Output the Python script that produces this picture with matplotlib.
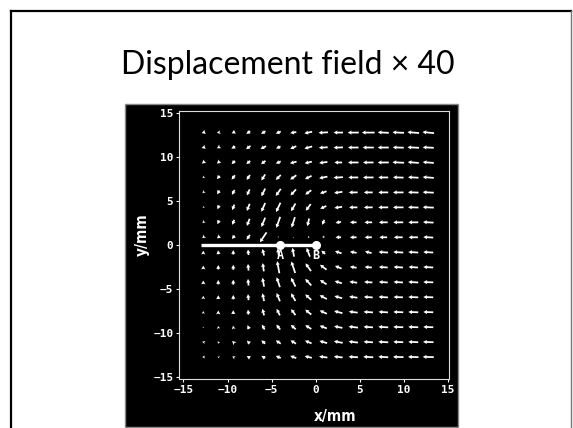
import numpy as np
import matplotlib
matplotlib.use("Agg")
import matplotlib.pyplot as plt
from matplotlib.patches import Rectangle
from matplotlib.lines import Line2D

# grid of measurement points (mm)
grid_x = [-12.75, -11.05, -9.35, -7.65, -5.95, -4.25, -2.55, -0.85,
          0.85, 2.55, 4.25, 5.95, 7.65, 9.35, 11.05, 12.75]
grid_y = grid_x[::-1]  # rows listed top to bottom

# displacement x 40 (mm), one row per grid_y value
U = [
    [-0.3, -0.25, -0.3, -0.35, -0.4, -0.45, -0.55, -0.7, -0.85, -0.85, -1.0, -1.15, -1.0, -1.05, -1.05, -1.05],
    [-0.3, -0.25, -0.35, -0.4, -0.5, -0.4, -0.55, -0.7, -0.8, -0.85, -0.95, -1.0, -1.0, -1.0, -1.05, -1.0],
    [-0.25, -0.25, -0.3, -0.35, -0.4, -0.45, -0.6, -0.65, -0.75, -0.7, -0.95, -0.95, -1.0, -1.05, -1.0, -1.0],
    [-0.15, -0.25, -0.3, -0.3, -0.35, -0.45, -0.55, -0.6, -0.75, -0.85, -0.9, -0.95, -0.9, -0.95, -0.95, -1.0],
    [-0.15, -0.2, -0.25, -0.25, -0.35, -0.45, -0.5, -0.55, -0.6, -0.75, -0.8, -0.8, -0.9, -0.95, -0.95, -1.0],
    [-0.1, -0.15, -0.2, -0.25, -0.35, -0.4, -0.4, -0.45, -0.55, -0.7, -0.75, -0.8, -0.9, -0.95, -0.95, -1.0],
    [-0.15, -0.15, -0.2, -0.25, -0.35, -0.35, -0.3, -0.15, -0.2, -0.5, -0.6, -0.7, -0.8, -0.9, -0.9, -0.95],
    [-0.2, -0.25, -0.25, -0.3, -0.6, 0.0, -0.05, -0.1, -0.1, -0.5, -0.6, -0.65, -0.7, -0.8, -0.85, -0.9],
    [0.0, -0.05, 0.0, -0.05, -0.15, -0.1, -0.15, -0.3, -0.35, -0.6, -0.6, -0.6, -0.85, -0.9, -0.9, -0.9],
    [0.0, 0.0, 0.0, -0.05, -0.1, -0.2, -0.35, -0.5, -0.6, -0.6, -0.6, -0.65, -0.8, -0.85, -0.85, -0.9],
    [0.0, 0.0, 0.0, -0.05, -0.15, -0.3, -0.4, -0.55, -0.6, -0.65, -0.7, -0.75, -0.8, -0.85, -0.9, -0.9],
    [0.0, 0.0, 0.0, -0.05, -0.15, -0.3, -0.4, -0.55, -0.65, -0.7, -0.75, -0.8, -0.85, -0.85, -0.9, -0.9],
    [0.0, 0.0, 0.0, -0.05, -0.15, -0.3, -0.4, -0.55, -0.65, -0.75, -0.8, -0.85, -0.85, -0.9, -0.9, -0.9],
    [0.0, -0.05, -0.05, -0.15, -0.25, -0.35, -0.45, -0.55, -0.65, -0.75, -0.85, -0.85, -0.9, -0.9, -0.9, -0.9],
    [-0.2, -0.1, -0.2, -0.25, -0.35, -0.45, -0.5, -0.6, -0.7, -0.8, -0.85, -0.85, -0.9, -0.9, -0.9, -0.95],
    [-0.2, -0.15, -0.2, -0.3, -0.35, -0.45, -0.55, -0.65, -0.75, -0.8, -0.85, -0.9, -0.9, -0.95, -0.95, -1.0],
]
V = [
    [-0.1, -0.05, -0.15, -0.25, -0.25, -0.2, -0.1, -0.15, -0.05, 0.0, 0.0, 0.0, 0.05, 0.05, 0.08, 0.1],
    [-0.1, -0.15, -0.2, -0.3, -0.25, -0.2, -0.25, -0.2, -0.05, -0.03, 0.0, 0.0, 0.0, 0.03, 0.05, 0.05],
    [-0.2, -0.2, -0.3, -0.3, -0.3, -0.2, -0.15, -0.15, -0.1, 0.0, 0.0, 0.0, 0.0, 0.05, 0.08, 0.08],
    [-0.1, -0.3, -0.4, -0.45, -0.55, -0.45, -0.4, -0.3, -0.15, -0.05, 0.0, 0.0, 0.0, 0.03, 0.05, 0.08],
    [-0.15, -0.35, -0.45, -0.55, -0.7, -0.65, -0.55, -0.4, -0.2, -0.1, 0.0, 0.0, 0.0, 0.0, 0.03, 0.05],
    [-0.1, -0.35, -0.5, -0.65, -0.8, -0.85, -0.7, -0.6, -0.25, -0.1, 0.0, 0.0, 0.0, 0.0, 0.03, 0.05],
    [-0.15, -0.35, -0.45, -0.65, -0.85, -1.0, -0.95, -0.7, -0.45, -0.1, 0.0, 0.0, 0.0, 0.0, 0.0, 0.05],
    [-0.15, -0.2, -0.3, -0.45, -0.9, -0.1, -0.05, -0.1, -0.15, 0.0, 0.0, 0.0, 0.0, 0.0, 0.0, 0.05],
    [0.3, 0.35, 0.4, 0.5, 0.6, 0.7, 0.8, 0.8, 0.3, 0.2, 0.1, 0.15, 0.05, 0.05, 0.05, 0.05],
    [0.3, 0.4, 0.45, 0.6, 0.75, 1.1, 1.05, 0.7, 0.45, 0.25, 0.1, 0.05, 0.05, 0.05, 0.05, 0.05],
    [0.3, 0.4, 0.45, 0.6, 0.8, 0.9, 0.8, 0.6, 0.4, 0.2, 0.1, 0.05, 0.05, 0.05, 0.05, 0.03],
    [0.25, 0.35, 0.4, 0.55, 0.7, 0.75, 0.7, 0.5, 0.35, 0.2, 0.1, 0.05, 0.05, 0.03, 0.03, 0.03],
    [0.2, 0.3, 0.35, 0.45, 0.6, 0.6, 0.55, 0.45, 0.3, 0.2, 0.1, 0.05, 0.05, 0.03, 0.03, 0.03],
    [0.1, 0.2, 0.25, 0.35, 0.45, 0.45, 0.4, 0.35, 0.25, 0.15, 0.1, 0.05, 0.05, 0.03, 0.03, 0.03],
    [0.05, 0.15, 0.2, 0.25, 0.3, 0.3, 0.3, 0.25, 0.2, 0.15, 0.1, 0.05, 0.05, 0.03, 0.03, 0.03],
    [0.0, 0.05, 0.1, 0.15, 0.2, 0.2, 0.2, 0.15, 0.1, 0.08, 0.05, 0.05, 0.05, 0.03, 0.03, 0.03],
]

# crack line and points A, B
crack_x = [-13, 0]
crack_y = [0, 0]
point_names = ["A", "B"]
point_x = [-4, 0]
point_y = [0, 0]

W, H = 573, 428
fig = plt.figure(figsize=(W / 100, H / 100), dpi=100)
fig.patch.set_facecolor("white")


def fx(px):
    return px / W


def fy(py):
    return 1 - py / H


# slide frame
fig.add_artist(Line2D([fx(11), fx(11)], [fy(11), 0], color="black", lw=1.6))
fig.add_artist(Line2D([fx(11), fx(571)], [fy(11), fy(11)], color="black", lw=1.6))
fig.add_artist(Line2D([fx(571), fx(571)], [fy(11), 0], color="#777777", lw=1.0))

fig.text(fx(288), fy(65), "Displacement field × 40", ha="center", va="center",
         fontsize=23, family="Lato", color="black")

# black scanned panel, behind the axes
fig.add_artist(Rectangle((fx(125), fy(427)), fx(458) - fx(125), fy(104) - fy(427),
                         transform=fig.transFigure, facecolor="black",
                         edgecolor="#888888", lw=1.0, zorder=-5))

ax = fig.add_axes([fx(179), fy(379), fx(449) - fx(179), fy(111) - fy(379)])
ax.set_facecolor("black")
ax.set_xlim(-15.5, 15.1)
ax.set_ylim(-15.25, 15.2)
for s in ax.spines.values():
    s.set_color("#dddddd")
    s.set_linewidth(0.8)

X, Y = np.meshgrid(grid_x, grid_y)
ax.quiver(X, Y, np.array(U), np.array(V), color="white", pivot="middle",
          angles="xy", scale_units="xy", scale=0.8, width=0.0065,
          headwidth=2.4, headlength=2.2, headaxislength=2.0, minlength=0.5,
          minshaft=0.8)

ax.plot(crack_x, crack_y, color="white", lw=2.4, solid_capstyle="butt")
ax.plot(point_x, point_y, "o", color="white", ms=5.5)
for name, px_, py_ in zip(point_names, point_x, point_y):
    ax.text(px_, py_ - 0.5, name, color="white", ha="center", va="top",
            fontsize=8.5, family="DejaVu Sans Mono", fontweight="bold")

ticks = [-15, -10, -5, 0, 5, 10, 15]
ax.set_xticks(ticks)
ax.set_yticks(ticks)
ax.tick_params(colors="white", labelcolor="white", length=2, width=0.8,
               labelsize=8, pad=2)
for lab in ax.get_xticklabels() + ax.get_yticklabels():
    lab.set_family("DejaVu Sans Mono")
    lab.set_fontweight("bold")

fig.text(fx(335), fy(416), "x/mm", color="white", ha="center", va="center",
         fontsize=11, fontweight="bold", family="DejaVu Sans", stretch="condensed")
fig.text(fx(142), fy(235), "y/mm", color="white", ha="center", va="center",
         fontsize=11, fontweight="bold", family="DejaVu Sans", stretch="condensed",
         rotation=90)

fig.savefig("out.png", dpi=100, facecolor=fig.get_facecolor())
